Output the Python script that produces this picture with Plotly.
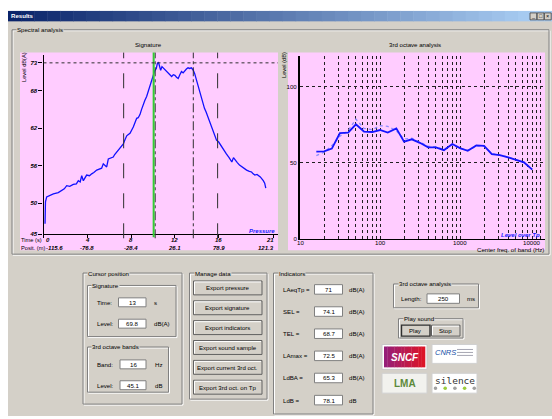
import plotly.graph_objects as go

W, H = 552, 419
FONT = "Liberation Sans, Arial, sans-serif"
GREY = "#d4d0c8"
PINK = "#ffccff"
FS = 6.1

# ---------------- data ----------------
sig_time = [0.14, 0.18, 0.29, 0.6, 0.9, 1.35, 1.66, 1.9, 2.12, 2.4, 2.72, 3.0, 3.18, 3.35, 3.49, 3.64,
            3.94, 4.2, 4.4, 4.6, 4.86, 5.1, 5.31, 5.46, 5.62, 5.77, 5.92, 6.15, 6.37, 6.5, 6.68, 6.99,
            7.29, 7.45, 7.6, 7.75, 7.9, 8.2, 8.35, 8.51, 8.65, 8.81, 8.95, 9.11, 9.26, 9.42, 9.57, 9.73,
            9.88, 10.0, 10.15, 10.3, 10.4, 10.5, 10.6, 10.7, 10.82, 10.94, 11.1, 11.25, 11.45, 11.7,
            11.85, 12.0, 12.15, 12.3, 12.45, 12.6, 12.75, 12.9, 13.05, 13.2, 13.35, 13.5, 13.65, 13.8,
            13.95, 14.1, 14.25, 14.4, 14.55, 14.7, 14.85, 15.05, 15.2, 15.36, 15.5, 15.65, 15.8, 16.0,
            16.27, 16.5, 16.7, 16.95, 17.2, 17.35, 17.5, 17.7, 17.9, 18.2, 18.55, 18.8, 19.0, 19.15,
            19.3, 19.5, 19.8, 20.07, 20.2, 20.3]
sig_level = [46.7, 50.2, 51.0, 51.3, 51.5, 51.7, 52.0, 52.3, 52.8, 52.7, 53.0, 53.1, 53.6, 53.4, 54.4, 53.6,
             54.5, 54.4, 54.7, 54.9, 55.3, 55.5, 55.6, 56.3, 56.0, 55.8, 57.1, 57.3, 57.4, 57.8, 58.2, 58.7,
             59.5, 60.2, 60.8, 61.0, 61.2, 62.2, 63.0, 63.6, 63.7, 64.2, 65.0, 66.0, 66.5, 67.1, 68.0, 68.9,
             69.6, 70.5, 71.2, 71.6, 72.4, 72.6, 72.0, 71.3, 71.9, 71.7, 71.4, 71.1, 70.8, 70.3,
             70.6, 70.5, 70.2, 70.0, 70.6, 71.1, 70.9, 71.3, 71.5, 71.7, 71.6, 71.7, 71.4, 70.8,
             69.9, 68.9, 67.9, 66.8, 66.0, 65.2, 64.6, 63.6, 62.9, 62.0, 61.5, 60.6, 60.1, 59.8,
             59.0, 58.4, 57.9, 57.3, 56.6, 57.3, 56.9, 56.5, 56.1, 55.7, 55.3, 55.1, 55.0, 54.7,
             54.5, 54.6, 54.2, 53.6, 53.2, 52.4]
sig_xticks = [0, 4, 8, 12, 16, 21]
sig_xtick_time = ["0", "4", "8", "12", "16", "21"]
sig_xtick_pos = ["-115.6", "-76.8", "-28.4", "26.1", "78.9", "121.3"]
sig_yticks = [45, 50, 56, 62, 68, 72.5]
sig_ytick_text = ["45", "50", "56", "62", "68", "73"]
sig_longdash_times = [7.32, 15.9]
sig_dashdot_times = [10.2, 13.68]
sig_cursor_time = 10.06

bands_hz = [16, 20, 25, 31.5, 40, 50, 63, 80, 100, 125, 160, 200, 250, 315, 400, 500, 630, 800,
            1000, 1250, 1600, 2000, 2500, 3150, 4000, 5000, 6300, 8000]
level_over_tp = [57.5, 57.6, 59.4, 69.5, 69.9, 75.3, 70.6, 70.3, 71.6, 69.9, 72.7, 64.0, 65.5, 63.2,
                 60.2, 60.2, 58.4, 62.4, 59.7, 58.0, 61.5, 61.2, 55.8, 55.2, 53.7, 52.1, 50.4, 45.6]
level_current = [54.8, 57.0, 61.4, 67.5, 71.1, 78.7, 72.7, 71.8, 74.4, 74.0, 71.1, 65.7, 66.2, 63.8,
                 61.0, 60.5, 58.8, 62.0, 59.5, 58.3, 61.0, 61.0, 56.2, 55.0, 53.9, 52.0, 50.6, 46.0]
oct_decades = [10, 100, 1000, 10000]
oct_decade_text = ["10", "100", "1000", "10000"]
oct_yticks = [0, 50, 100]

cursor_sig = [("Time:", "13", "s"), ("Level:", "69.8", "dB(A)")]
cursor_band = [("Band:", "16", "Hz"), ("Level:", "45.1", "dB")]
export_buttons = ["Export pressure", "Export signature", "Export indicators", "Export sound sample",
                  "Export current 3rd oct.", "Export 3rd oct. on Tp"]
indicator_names = ["LAeqTp =", "SEL =", "TEL =", "LAmax =", "LdBA =", "LdB ="]
indicator_values = ["71", "74.1", "68.7", "72.5", "65.3", "78.1"]
indicator_units = ["dB(A)", "dB(A)", "dB(A)", "dB(A)", "dB(A)", "dB"]
lamax_value = 72.5
third_oct_length = "250"

# ---------------- helpers ----------------
shapes, ann = [], []


def X(x):
    return x / W


def Y(y):
    return 1 - y / H


def rect(x0, y0, x1, y1, fill=None, line=None, lw=1, layer="below"):
    d = dict(type="rect", xref="paper", yref="paper", x0=X(x0), x1=X(x1), y0=Y(y1), y1=Y(y0),
             layer=layer, line=dict(color=line if line else "rgba(0,0,0,0)", width=lw if line else 0))
    if fill:
        d["fillcolor"] = fill
    shapes.append(d)


def seg(x0, y0, x1, y1, color, lw=1, layer="below"):
    shapes.append(dict(type="line", xref="paper", yref="paper", x0=X(x0), x1=X(x1), y0=Y(y0), y1=Y(y1),
                       line=dict(color=color, width=lw), layer=layer))


def text(x, y, s, size=FS, color="black", anchor="left", bg=None, angle=0, family=FONT):
    a = dict(xref="paper", yref="paper", x=X(x), y=Y(y), text=s, showarrow=False, xanchor=anchor,
             yanchor="middle", font=dict(size=size, color=color, family=family), textangle=angle,
             borderpad=0)
    if bg:
        a["bgcolor"] = bg
    ann.append(a)


def groupbox(x0, y0, x1, y1, label):
    rect(x0 + 1, y0 + 1, x1 + 1, y1 + 1, line="white")
    rect(x0, y0, x1, y1, line="#808080")
    text(x0 + 4, y0, label, bg=GREY)


def textbox(x0, y0, x1, y1, value):
    rect(x0, y0, x1, y1, fill="white", line="#808080")
    text((x0 + x1) / 2, (y0 + y1) / 2, value, anchor="center")


def button(x0, y0, x1, y1, label, pressed=False):
    rect(x0, y0, x1, y1, fill=GREY, line="#303030" if pressed else "#606060", lw=1.4 if pressed else 1)
    if not pressed:
        seg(x0 + 1, y0 + 1, x1 - 1, y0 + 1, "white")
        seg(x0 + 1, y0 + 1, x0 + 1, y1 - 1, "white")
    text((x0 + x1) / 2, (y0 + y1) / 2, label, anchor="center")


def lerp(c0, c1, t):
    return "rgb(%d,%d,%d)" % tuple(round(a + (b - a) * t) for a, b in zip(c0, c1))


# ---------------- window chrome ----------------
rect(8, 21, 552, 419, fill=GREY)
n = 40
for i in range(n):
    xa = 8 + (531 - 8) * i / n
    xb = 8 + (531 - 8) * (i + 1) / n + 0.5
    rect(xa, 11, xb, 21.5, fill=lerp((10, 36, 106), (166, 202, 240), i / (n - 1)))
rect(531, 11, 552, 21.5, fill=lerp((10, 36, 106), (166, 202, 240), 1))
text(10, 16, "<b>Results</b>", size=FS, color="white")
for k, g in enumerate(["_", "□", "×"]):
    bx = 530 + k * 7.2
    rect(bx, 13, bx + 6.8, 20, fill=GREY, line="#404040", lw=0.8)
    text(bx + 3.4, 16.3, g, size=5.5, anchor="center")

groupbox(12, 30, 549, 256, "Spectral analysis")

# plot backgrounds
rect(20, 53, 278, 252, fill=PINK)
rect(288, 53, 545, 252, fill=PINK)

text(148, 44.5, "Signature", anchor="center")
text(415, 44.5, "3rd octave analysis", anchor="center")

# ---------------- signature chart ----------------
fig = go.Figure()
fig.add_trace(go.Scatter(x=sig_time, y=sig_level, mode="lines", line=dict(color="#1010ff", width=1.3),
                         xaxis="x", yaxis="y", hoverinfo="skip"))

for t in sig_longdash_times:
    shapes.append(dict(type="line", xref="x", yref="paper", x0=t, x1=t, y0=Y(240), y1=Y(53),
                       line=dict(color="#303030", width=1, dash="longdash"), layer="above"))
for t in sig_dashdot_times:
    shapes.append(dict(type="line", xref="x", yref="paper", x0=t, x1=t, y0=Y(240), y1=Y(53),
                       line=dict(color="#303030", width=1, dash="dashdot"), layer="above"))
shapes.append(dict(type="line", xref="x", yref="paper", x0=sig_cursor_time, x1=sig_cursor_time,
                   y0=Y(239), y1=Y(53), line=dict(color="#33cc33", width=2), layer="above"))
shapes.append(dict(type="line", xref="x domain", yref="y", x0=0, x1=1, y0=lamax_value, y1=lamax_value,
                   line=dict(color="#303030", width=1, dash="dot"), layer="above"))

for i, (tv, tt, tp) in enumerate(zip(sig_xticks, sig_xtick_time, sig_xtick_pos)):
    anchor = "left" if i == 0 else ("right" if i == len(sig_xticks) - 1 else "center")
    shift = 1 if i == 0 else (2 if i == len(sig_xticks) - 1 else 0)
    for s, yy in ((tt, 242), (tp, 250)):
        ann.append(dict(xref="x", yref="paper", x=tv, y=Y(yy), text="<b><i>%s</i></b>" % s,
                        showarrow=False, xanchor=anchor, yanchor="middle", xshift=shift, borderpad=0,
                        font=dict(size=6.0, family=FONT, color="black")))
text(19.5, 242, "Time (s)", size=5.7)
text(19.5, 250, "Posit. (m)", size=5.7)
text(23.5, 68, "Level dB(A)", size=5.7, angle=-90, anchor="center")
text(276, 232.5, "<b><i>Pressure</i></b>", size=6.0, color="#1a1aff", anchor="right")

# ---------------- 3rd octave chart ----------------
fig.add_trace(go.Scatter(x=bands_hz, y=level_current, mode="lines",
                         line=dict(color="#8c8cff", width=1.3, dash="dot"),
                         xaxis="x2", yaxis="y2", hoverinfo="skip"))
fig.add_trace(go.Scatter(x=bands_hz, y=level_over_tp, mode="lines", line=dict(color="#1414ff", width=1.8),
                         xaxis="x2", yaxis="y2", hoverinfo="skip"))

grid_vals = [m * 10 ** e for e in range(1, 5) for m in range(1, 10) if m * 10 ** e <= 11000]
for i, (dv, dt) in enumerate(zip(oct_decades, oct_decade_text)):
    last = i == len(oct_decades) - 1
    ann.append(dict(xref="x2", yref="paper", x=[1, 2, 3, 4][i], y=Y(244.5), text=dt, showarrow=False,
                    xanchor="right" if last else "center", xshift=2 if last else 0, yanchor="middle",
                    borderpad=0, font=dict(size=FS, family=FONT, color="black")))
text(545, 251.5, "Center freq. of band (Hz)", anchor="right")
text(283.5, 66, "Level (dB)", size=5.7, angle=-90, anchor="center")
text(541, 236.5, "<b><i>Level over Tp</i></b>", size=6.0, color="#1a1aff", anchor="right")

# ---------------- bottom panels ----------------
groupbox(83, 275, 182, 407, "Cursor position")
groupbox(87.5, 287.5, 176, 339, "Signature")
for k, (lab, val, unit) in enumerate(cursor_sig):
    yc = 304.5 + k * 21.5
    text(95.5, yc, lab)
    textbox(118.5, yc - 4.5, 146, yc + 4.5, val)
    text(152.5, yc, unit)
groupbox(87.5, 349.5, 168.5, 395, "3rd octave bands")
for k, (lab, val, unit) in enumerate(cursor_band):
    yc = 367 + k * 21
    text(96, yc, lab)
    textbox(120, yc - 4.5, 146, yc + 4.5, val)
    text(153.5, yc, unit)

groupbox(189.5, 275, 267, 402, "Manage data")
for k, lab in enumerate(export_buttons):
    y0 = 283 + k * 20
    button(193.5, y0, 262, y0 + 14, lab)

groupbox(273.5, 275, 373, 417, "Indicators")
for k, (nm, val, unit) in enumerate(zip(indicator_names, indicator_values, indicator_units)):
    yc = 291.5 + k * 22.3
    text(281.5, yc, nm)
    textbox(314.5, yc - 4.8, 342.5, yc + 4.8, val)
    text(348, yc, unit)

groupbox(393.5, 286, 478.5, 310, "3rd octave analysis")
text(399.5, 300.5, "Length:")
textbox(427, 296, 459.5, 305.5, third_oct_length)
text(466, 300.5, "ms")

groupbox(398.5, 321, 463, 340.5, "Play sound")
button(401.5, 327.5, 430, 338.5, "Play", pressed=True)
button(431.5, 327.5, 460, 338.5, "Stop")

# logos
rect(382, 347, 427, 372, fill="white", line="#c8c8c8")
for i in range(12):
    xa = 384 + 41 * i / 12
    rect(xa, 349, xa + 41 / 12 + 0.3, 370, fill=lerp((150, 30, 120), (220, 20, 40), i / 11))
text(404.5, 360, "<b><i>SNCF</i></b>", size=10, color="white", anchor="center")

rect(432, 347, 477, 366, fill="white", line="#d0d0d0")
text(445, 355, "<i>CNRS</i>", size=7.5, color="#2050a8", anchor="center")
for k in range(3):
    seg(457, 352 + k * 3, 473, 352 + k * 3, "#9090a0", lw=0.8)

rect(382, 376, 427, 396, fill="#f2f2ee", line="#d0d0d0")
text(404.5, 386, "<b>LMA</b>", size=10, color="#5d8a3a", anchor="center")

rect(432, 376, 477, 396, fill="white", line="#d0d0d0")
text(454.5, 383, "silence", size=9.5, color="#333333", anchor="center", family="DejaVu Sans Mono")
for k, c in enumerate(["#a0a0a0", "#9ccc3c", "#a0a0a0", "#9ccc3c", "#a0a0a0"]):
    cx = 435.5 + k * 9.7
    shapes.append(dict(type="circle", xref="paper", yref="paper", x0=X(cx - 1.8), x1=X(cx + 1.8),
                       y0=Y(392.8), y1=Y(389.2), fillcolor=c, line=dict(width=0), layer="above"))

# ---------------- layout ----------------
axis_common = dict(showgrid=False, zeroline=False, showline=True, linecolor="black", mirror=False)
fig.update_layout(
    width=W, height=H, margin=dict(l=0, r=0, t=0, b=0, pad=0),
    paper_bgcolor="white", plot_bgcolor="rgba(0,0,0,0)", showlegend=False,
    font=dict(family=FONT, size=FS, color="black"),
    xaxis=dict(domain=[X(43.5), X(278)], range=[0, (278 - 43.5) / 10.95], tickvals=sig_xticks,
               showticklabels=False, ticks="outside", ticklen=3, tickcolor="black", linewidth=1,
               anchor="y", **axis_common),
    yaxis=dict(domain=[Y(236), Y(55)], range=[45, 45 + (236 - 55) / 6.28], tickvals=sig_yticks,
               ticktext=sig_ytick_text, ticks="outside", ticklen=4, tickcolor="black", linewidth=1.4,
               tickfont=dict(size=6.0, weight="bold", style="italic"), anchor="x", **axis_common),
    xaxis2=dict(type="log", domain=[X(300), X(545)], range=[1, 1 + (545 - 300) / 80], tickvals=grid_vals,
                showticklabels=False, ticks="", showgrid=True, gridcolor="#202020", gridwidth=0.8,
                griddash="dot", zeroline=False, showline=True, linecolor="black", linewidth=1.4,
                anchor="y2"),
    yaxis2=dict(domain=[Y(241), Y(56)], range=[0, (241 - 56) / 1.537], tickvals=oct_yticks, ticks="",
                showgrid=True, gridcolor="#202020", gridwidth=0.8, griddash="dot", zeroline=False,
                showline=True, linecolor="black", linewidth=2, tickfont=dict(size=FS), anchor="x2"),
    shapes=shapes, annotations=ann,
)
fig.write_html("out.html", config={"displayModeBar": False},
               post_script="document.body.style.margin='0px';document.body.style.overflow='hidden';")
